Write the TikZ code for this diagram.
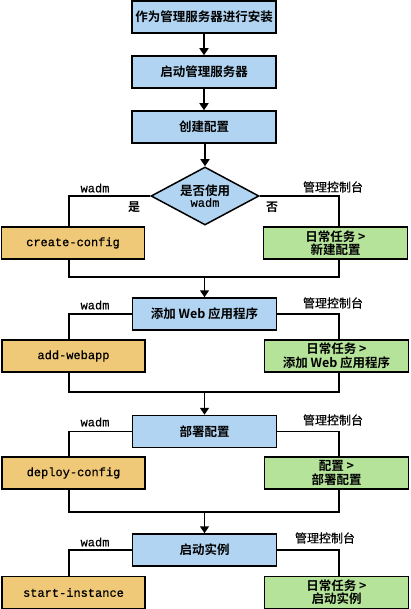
\documentclass[tikz,border=0pt]{standalone}
\usepackage{fontspec}
\newfontfamily\cjk{Noto Sans CJK SC}[BoldFont=* Bold]
\newfontfamily\cjkm{Noto Sans CJK SC}[FakeBold=0.6]
\newfontfamily\mono{Liberation Mono}[FakeBold=0.6]
\usetikzlibrary{shapes.geometric,arrows.meta,calc}
\definecolor{bluefill}{HTML}{B0D4F1}
\definecolor{yellowfill}{HTML}{EFC977}
\definecolor{greenfill}{HTML}{B5E39A}
\begin{document}
\begin{tikzpicture}[x=1pt,y=-1pt,
  line width=1.5pt,
  bluebox/.style={draw,fill=bluefill,minimum width=144pt,minimum height=32pt,inner sep=0pt,
     font=\cjk\bfseries\fontsize{12.5}{14}\selectfont},
  ybox/.style={draw,fill=yellowfill,minimum width=143pt,minimum height=32pt,inner sep=0pt,
     font=\mono\fontsize{12}{14}\selectfont},
  gbox/.style={draw,fill=greenfill,minimum width=144pt,minimum height=32pt,inner sep=0pt,align=center,
     font=\cjk\bfseries\fontsize{12.5}{13.5}\selectfont},
  wlabel/.style={font=\mono\fontsize{12}{14}\selectfont,inner sep=0pt},
  clabel/.style={font=\cjkm\fontsize{12}{14}\selectfont,inner sep=0pt},
  flow/.style={-{Triangle[width=9pt,length=7pt]}}]
\useasboundingbox (0,0) rectangle (410,609);
\coordinate (lx) at (69,0);
\coordinate (rx) at (339,0);
% main column
\node[bluebox] (b1) at (204,17) {作为管理服务器进行安装};
\node[bluebox] (b2) at (204,72) {启动管理服务器};
\node[bluebox] (b3) at (204,127) {创建配置};
\node[draw,fill=bluefill,shape=diamond,minimum width=108pt,minimum height=58pt,aspect=1.86,inner sep=0pt,align=center]
  (d) at (205,196) {{\cjk\bfseries\fontsize{12.5}{14}\selectfont 是否使用}\\[-1pt]{\mono\fontsize{12}{14}\selectfont wadm}};
\node[bluebox] (b4) at (204.5,314) {添加 Web 应用程序};
\node[bluebox] (b5) at (204.5,431.5) {部署配置};
\node[bluebox] (b6) at (204.5,550) {启动实例};
% side boxes
\node[ybox] (y1) at (73,243) {create-config};
\node[gbox] (g1) at (335.5,243) {日常任务 >\\新建配置};
\node[ybox] (y2) at (73.5,356) {add-webapp};
\node[gbox] (g2) at (336.5,356) {日常任务 >\\添加 Web 应用程序};
\node[ybox] (y3) at (73.5,473) {deploy-config};
\node[gbox] (g3) at (336.5,473) {配置 >\\部署配置};
\node[ybox] (y4) at (73.5,592.5) {start-instance};
\node[gbox] (g4) at (336.5,592.5) {日常任务 >\\启动实例};
% junctions
\coordinate (j1) at (204.5,277);
\coordinate (j2) at (204.5,392);
\coordinate (j3) at (204.5,512);
% arrows
\draw[flow] (b1) -- (b2);
\draw[flow] (b2) -- (b3);
\draw[flow] (b3.south -| d.north) -- (d.north);
\draw (d.west) -| (lx |- y1.north);
\draw (d.east) -| (rx |- g1.north);
\draw (lx |- y1.south) |- (j1) -| (rx |- g1.south);
\draw[flow] (j1) -- (b4.north);
\draw (b4.west) -| (lx |- y2.north);
\draw (b4.east) -| (rx |- g2.north);
\draw (lx |- y2.south) |- (j2) -| (rx |- g2.south);
\draw[flow] (j2) -- (b5.north);
\draw (b5.west) -| (lx |- y3.north);
\draw (b5.east) -| (rx |- g3.north);
\draw (lx |- y3.south) |- (j3) -| (rx |- g3.south);
\draw[flow] (j3) -- (b6.north);
\draw (b6.west) -| (lx |- y4.north);
\draw (b6.east) -| (rx |- g4.north);
% labels
\node[wlabel] (w1) at (95,188) {wadm};
\node[clabel] (c1) at (333,187) {管理控制台};
\node[clabel,font=\cjk\bfseries\fontsize{12}{14}\selectfont] (yes) at (134,207) {是};
\node[clabel,font=\cjk\bfseries\fontsize{12}{14}\selectfont] (no) at (272,207) {否};
\node[wlabel] (w2) at (95,305) {wadm};
\node[clabel] (c2) at (333,303) {管理控制台};
\node[wlabel] (w3) at (95,422) {wadm};
\node[clabel] (c3) at (333,420) {管理控制台};
\node[wlabel] (w4) at (95,542) {wadm};
\node[clabel] (c4) at (325,538) {管理控制台};
\end{tikzpicture}
\end{document}
